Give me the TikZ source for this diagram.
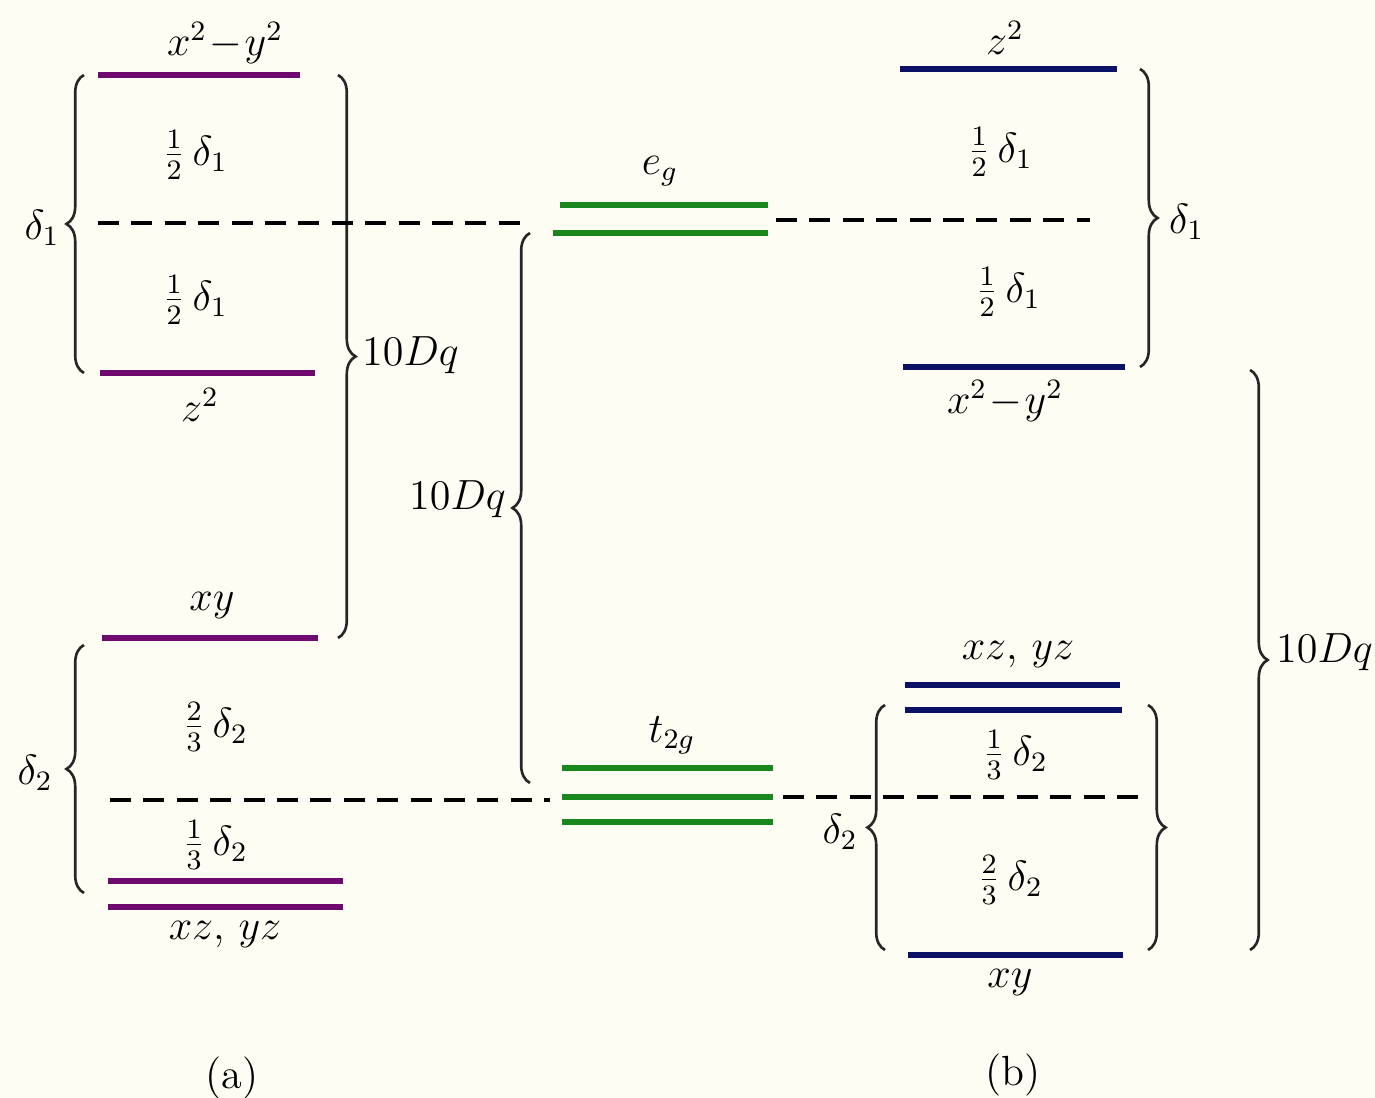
\documentclass[tikz,border=0pt]{standalone}
\usepackage{amsmath}
\usepackage{tikz}
\usetikzlibrary{decorations.pathreplacing, calc}
\usepackage{xcolor}
\definecolor{dpurple}{HTML}{6E0A6E}
\definecolor{dblue}{HTML}{0B1266}
\definecolor{dgreen}{HTML}{1A861E}
\definecolor{paper}{HTML}{FEFDF4}

\tikzset{
  orbital/.style={line width=1.9pt},
  centroid/.style={line width=0.9pt, dash pattern=on 6pt off 3.5pt},
  gap/.style={decorate, decoration={brace, amplitude=5pt}, line width=0.75pt, black!85},
  lab/.style={font=\large, inner sep=1pt}
}

\begin{document}
\begin{tikzpicture}
  % Paper
  \fill[paper] (0,0) rectangle (13.75,10.98);
  \useasboundingbox (0,0) rectangle (13.75,10.98);

  % (a) levels
  \draw[orbital, dpurple] (0.98,10.23) -- (3.00,10.23);
  \draw[orbital, dpurple] (1.00,7.25) -- (3.15,7.25);
  \draw[orbital, dpurple] (1.02,4.60) -- (3.18,4.60);
  \draw[orbital, dpurple] (1.08,2.17) -- (3.43,2.17);
  \draw[orbital, dpurple] (1.08,1.91) -- (3.43,1.91);
  \node[lab] (aX) at (2.25,10.55) {$x^2\!-\!y^2$};
  \node[lab] (aZ) at (2.00,6.93) {$z^2$};
  \node[lab] (aXY) at (2.12,4.92) {$xy$};
  \node[lab] (aXZ) at (2.25,1.63) {$xz$, $yz$};
  \node[lab] (aH1) at (1.95,9.43) {$\tfrac{1}{2}\,\delta_1$};
  \node[lab] (aH2) at (1.95,7.98) {$\tfrac{1}{2}\,\delta_1$};
  \node[lab] (aT2) at (2.15,3.71) {$\tfrac{2}{3}\,\delta_2$};
  \node[lab] (aT1) at (2.15,2.53) {$\tfrac{1}{3}\,\delta_2$};

  % (a) braces
  \draw[gap] (0.84,7.25) -- (0.84,10.23);
  \node[lab] (aD1) at (0.42,8.70) {$\delta_1$};
  \draw[gap] (3.38,10.23) -- (3.38,4.60);
  \node[lab, anchor=west] (aDq) at (3.58,7.43) {$10Dq$};
  \draw[gap] (0.84,2.05) -- (0.84,4.53);
  \node[lab] (aD2) at (0.35,3.25) {$\delta_2$};
  \node[lab] (aCap) at (2.32,0.20) {(a)};

  % octahedral levels
  \draw[orbital, dgreen] (5.60,8.93) -- (7.68,8.93);
  \draw[orbital, dgreen] (5.53,8.65) -- (7.68,8.65);
  \draw[orbital, dgreen] (5.62,3.30) -- (7.73,3.30);
  \draw[orbital, dgreen] (5.62,3.01) -- (7.73,3.01);
  \draw[orbital, dgreen] (5.62,2.76) -- (7.73,2.76);
  \node[lab] (eg) at (6.60,9.27) {$e_g$};
  \node[lab] (tg) at (6.72,3.63) {$t_{2g}$};
  \draw[gap] (5.30,3.15) -- (5.30,8.65);
  \node[lab, anchor=east] (mDq) at (5.10,5.99) {$10Dq$};

  % dashed centroids
  \draw[centroid] (0.98,8.75) -- (5.28,8.75);
  \draw[centroid] (7.76,8.78) -- (10.90,8.78);
  \draw[centroid] (1.10,2.98) -- (5.50,2.98);
  \draw[centroid] (7.83,3.01) -- (11.40,3.01);

  % (b) levels
  \draw[orbital, dblue] (9.00,10.29) -- (11.17,10.29);
  \draw[orbital, dblue] (9.03,7.31) -- (11.25,7.31);
  \draw[orbital, dblue] (9.05,4.13) -- (11.20,4.13);
  \draw[orbital, dblue] (9.05,3.88) -- (11.22,3.88);
  \draw[orbital, dblue] (9.08,1.43) -- (11.23,1.43);
  \node[lab] (bZ) at (10.05,10.60) {$z^2$};
  \node[lab] (bX) at (10.05,6.97) {$x^2\!-\!y^2$};
  \node[lab] (bXZ) at (10.18,4.43) {$xz$, $yz$};
  \node[lab] (bXY) at (10.10,1.15) {$xy$};
  \node[lab] (bH1) at (10.00,9.46) {$\tfrac{1}{2}\,\delta_1$};
  \node[lab] (bH2) at (10.08,8.06) {$\tfrac{1}{2}\,\delta_1$};
  \node[lab] (bT1) at (10.15,3.43) {$\tfrac{1}{3}\,\delta_2$};
  \node[lab] (bT2) at (10.10,2.18) {$\tfrac{2}{3}\,\delta_2$};

  % (b) braces
  \draw[gap] (11.40,10.29) -- (11.40,7.31);
  \node[lab, anchor=west] (bD1) at (11.65,8.76) {$\delta_1$};
  \draw[gap] (12.50,7.28) -- (12.50,1.48);
  \node[lab, anchor=west] (bDq) at (12.72,4.46) {$10Dq$};
  \draw[gap] (8.85,1.48) -- (8.85,3.93);
  \node[lab] (bD2) at (8.40,2.66) {$\delta_2$};
  \draw[gap] (11.48,3.93) -- (11.48,1.48);
  \node[lab] (bCap) at (10.13,0.23) {(b)};
\end{tikzpicture}
\end{document}
